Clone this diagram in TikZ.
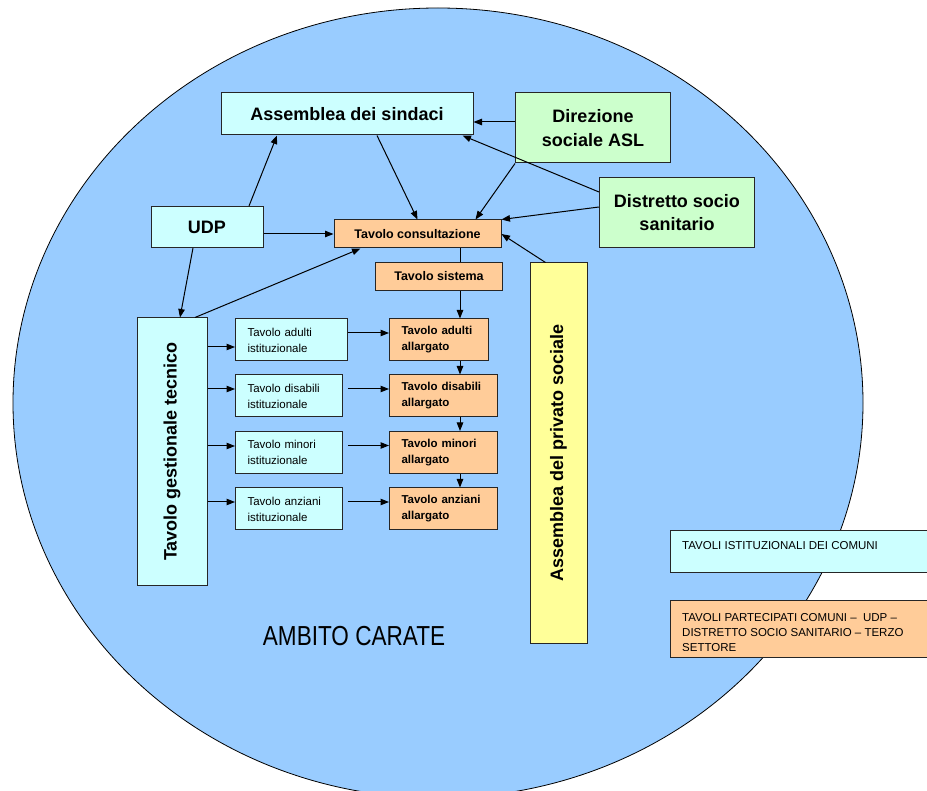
\documentclass[tikz,border=0pt]{standalone}
\usepackage{fontspec}
\setmainfont{Liberation Sans}
\newfontfamily\strettofont[FakeStretch=0.82]{Liberation Sans}
\usetikzlibrary{arrows.meta, calc}
\definecolor{cielo}{HTML}{99CCFF}
\definecolor{azzurro}{HTML}{CCFFFF}
\definecolor{verde}{HTML}{CCFFCC}
\definecolor{arancio}{HTML}{FFCC99}
\definecolor{giallo}{HTML}{FFFF99}
\tikzset{
    box/.style={draw=black!85, line width=1pt, inner sep=0pt}, % 方框的通用样式
    grande/.style={box, font=\bfseries\fontsize{18}{24}\selectfont, align=center}, % 大字方框
    medio/.style={box, fill=arancio, minimum height=28pt, font=\bfseries\fontsize{12.5}{15}\selectfont}, % 中等方框
    piccolo/.style={box, minimum height=42pt, inner xsep=12pt, align=left, font=\fontsize{11.5}{16}\selectfont}, % 小方框
    freccia/.style={-{Triangle[length=8.5pt, width=6.5pt]}, line width=1pt} % 箭头
}

\begin{document}
\begin{tikzpicture}[x=1pt, y=-1pt]
    \def\W{927} \def\H{791}
    \useasboundingbox (0,0) rectangle (\W,\H);
    \clip (0,0) rectangle (\W,\H);

    \draw[fill=cielo, line width=0.8pt] (438,403) ellipse [x radius=425, y radius=395];

    \node[grande, fill=azzurro, minimum width=252pt, minimum height=42pt] (sindaci) at (347,114) {Assemblea dei sindaci};
    \node[grande, fill=verde, minimum width=155pt, minimum height=70pt] (asl) at (593,128) {Direzione\\sociale ASL};
    \node[grande, fill=verde, minimum width=155pt, minimum height=70pt, font=\bfseries\fontsize{18}{23}\selectfont] (distretto) at (677,213) {Distretto socio\\sanitario};
    \node[grande, fill=azzurro, minimum width=112pt, minimum height=41pt] (udp) at (207,227) {UDP};
    \node[medio, minimum width=167pt] (consult) at (417.5,234) {Tavolo consultazione};
    \node[medio, minimum width=127pt] (sistema) at (439,276.5) {Tavolo sistema};
    \node[grande, fill=azzurro, rotate=90, minimum width=267pt, minimum height=70pt] (gest) at (172,451.5) {Tavolo gestionale tecnico};
    \node[grande, fill=giallo, rotate=90, minimum width=380pt, minimum height=57pt] (privato) at (558.5,453) {Assemblea del privato sociale};
    \coordinate (asse) at (460,0);

    \foreach \nome/\y/\wi/\wa/\o [evaluate=\wi as \ti using \wi-24, evaluate=\wa as \ta using \wa-24] in
        {adulti/340/112/99/7, disabili/396/107/108/-7, minori/452.5/107/108/-6.5, anziani/509/107/108/-7} {
        \node[piccolo, fill=azzurro, text width=\ti pt, anchor=west] (ist-\nome) at (235,\y) {Tavolo \nome\\istituzionale};
        \node[piccolo, fill=arancio, text width=\ta pt, anchor=west, font=\bfseries\fontsize{11.5}{16}\selectfont] (all-\nome) at (389,\y) {Tavolo \nome\\allargato};
        \coordinate (p) at ($(ist-\nome.west)+(0,\o)$);
        \draw[freccia] (gest.south |- p) -- (p);
        \coordinate (q) at ([yshift=7pt]all-\nome.west);
        \draw[freccia] (ist-adulti.east |- q) -- (q);
    }
    \foreach \a/\b in {adulti/disabili, disabili/minori, minori/anziani}
        \draw[freccia] (asse |- all-\a.south) -- (asse |- all-\b.north);

    \coordinate (asl-in) at ([yshift=6pt]asl.west);
    \draw[freccia] (asl-in) -- (sindaci.east |- asl-in);
    \draw[freccia] ([yshift=21pt]distretto.west) -- ([xshift=-11pt]sindaci.south east);
    \draw[freccia] ([xshift=42pt]udp.north) -- ([xshift=-70pt]sindaci.south);
    \draw[freccia] ([xshift=30pt]sindaci.south) -- (consult.north);
    \draw[freccia] (asl.south west) -- ([xshift=-26pt]consult.north east);
    \draw[freccia] ([yshift=6pt]distretto.west) -- (consult.north east);
    \draw[freccia] ([xshift=-13pt]privato.east) -- (consult.east);
    \draw[freccia] (udp.east |- consult.west) -- (consult.west);
    \draw[freccia] ([xshift=-14pt]udp.south) -- ([xshift=8pt]gest.east);
    \draw[freccia] ([xshift=23pt]gest.east) -- ([xshift=-57pt]consult.south);
    \draw[line width=1pt] (asse |- consult.south) -- (asse |- sistema.north);
    \draw[freccia] (asse |- sistema.south) -- (asse |- all-adulti.north);

    \node[font=\fontsize{27.5}{30}\selectfont] (ambito) at (354,636.5) {\strettofont AMBITO CARATE};

    % legenda
    \node[box, fill=azzurro, minimum width=280pt, minimum height=42pt, anchor=north west] (leg-ist) at (670,530) {};
    \node[anchor=north west, inner sep=0pt, font=\fontsize{11.5}{15}\selectfont] (txt-ist) at (682,541) {TAVOLI ISTITUZIONALI DEI COMUNI};
    \node[box, fill=arancio, minimum width=280pt, minimum height=57pt, anchor=north west] (leg-part) at (670,600) {};
    \begin{scope}
        \clip (670,600) rectangle (\W,650.5);
        \node[anchor=north west, inner sep=0pt, align=left, font=\fontsize{11.5}{15}\selectfont] (txt-part) at (682,613)
            {TAVOLI PARTECIPATI COMUNI \textendash\ \ UDP \textendash\\DISTRETTO SOCIO SANITARIO \textendash\ TERZO\\SETTORE};
    \end{scope}
\end{tikzpicture}
\end{document}
